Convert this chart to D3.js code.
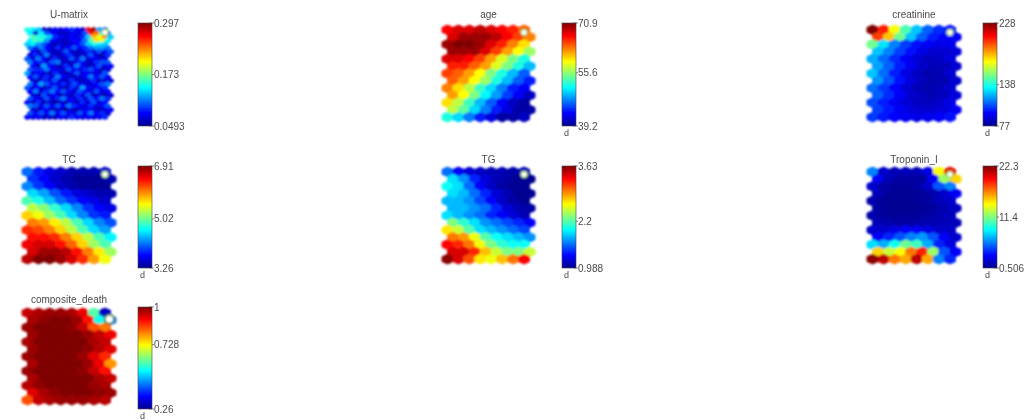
<!DOCTYPE html>
<html><head><meta charset="utf-8">
<script src="https://cdn.jsdelivr.net/npm/d3@7"></script>
<style>
body{margin:0;background:#fff}
svg{display:block}
text{font-family:"Liberation Sans",Arial,sans-serif;fill:#4a4a4a}
</style>
</head><body>
<svg id="c" width="1033" height="420"></svg>
<script>
// ---------------- DATA ----------------
const TITLES = ["U-matrix","age","creatinine","TC","TG","Troponin_I","composite_death"];

// U-matrix, 25 rows x 15 cols (top row first)
const U_MATRIX = [
[.15,.14,.13,.07,.06,.08,.07,.08,.09,.08,.07,.27,.29,.12,.10],
[.14,.07,.14,.10,.08,.07,.06,.07,.08,.07,.10,.26,.24,.15,.11],
[.16,.15,.15,.13,.09,.08,.07,.08,.07,.09,.13,.22,.20,.23,.13],
[.14,.16,.15,.12,.08,.07,.06,.07,.08,.08,.11,.16,.21,.20,.14],
[.13,.14,.12,.10,.07,.06,.07,.06,.07,.08,.10,.13,.15,.14,.13],
[.11,.09,.11,.08,.07,.09,.07,.08,.10,.08,.09,.11,.12,.12,.11],
[.08,.06,.10,.07,.06,.07,.10,.07,.06,.07,.09,.07,.10,.08,.10],
[.07,.09,.07,.11,.07,.06,.07,.09,.07,.06,.07,.10,.07,.06,.09],
[.10,.07,.11,.08,.06,.09,.06,.07,.10,.07,.11,.07,.08,.07,.07],
[.11,.08,.09,.07,.10,.11,.07,.06,.07,.09,.07,.06,.09,.10,.10],
[.08,.06,.12,.08,.07,.06,.09,.07,.11,.08,.06,.07,.10,.07,.08],
[.10,.09,.09,.11,.08,.07,.07,.10,.08,.07,.09,.10,.08,.06,.07],
[.12,.07,.08,.07,.06,.09,.07,.06,.07,.10,.07,.08,.07,.07,.10],
[.08,.10,.07,.09,.07,.11,.08,.07,.06,.07,.08,.11,.08,.10,.08],
[.07,.06,.09,.07,.10,.07,.06,.09,.07,.06,.07,.09,.06,.07,.07],
[.11,.08,.12,.10,.08,.07,.09,.07,.10,.08,.07,.07,.08,.10,.11],
[.10,.07,.08,.06,.07,.10,.07,.06,.09,.07,.12,.08,.07,.08,.09],
[.08,.11,.07,.09,.11,.08,.10,.08,.07,.10,.08,.07,.10,.07,.08],
[.07,.06,.10,.07,.08,.06,.07,.06,.09,.07,.10,.06,.07,.06,.07],
[.10,.08,.07,.10,.07,.09,.11,.08,.07,.09,.07,.10,.08,.11,.09],
[.08,.06,.09,.06,.07,.05,.07,.06,.08,.06,.09,.07,.10,.07,.08],
[.11,.10,.07,.10,.08,.10,.08,.11,.09,.08,.07,.09,.07,.08,.10],
[.07,.06,.08,.07,.06,.07,.05,.07,.06,.07,.08,.07,.06,.07,.08],
[.10,.08,.10,.08,.11,.08,.10,.08,.07,.10,.08,.11,.08,.09,.07],
[.08,.07,.08,.06,.07,.06,.08,.07,.09,.08,.07,.08,.07,.08,.09]
];

// component planes, 13 rows x 8 cols (top row first)
const AGE = [
[67,68,68,69,68,67,66,64],
[68,70,70,70,69,67,65,63],
[70,71,71,70,68,66,63,60],
[70,70,70,68,65,62,59,56],
[68,68,67,65,62,58,55,52],
[66,66,64,62,58,55,52,49],
[65,64,62,59,55,52,49,46],
[64,62,59,56,52,49,46,44],
[63,60,57,53,50,47,44,43],
[62,59,55,51,48,45,43,41],
[60,57,53,49,46,43,41,40],
[57,54,50,47,44,42,40,40],
[52,50,47,44,42,40,40,41]
];
const CREATININE = [
[228,205,170,145,125,110,102,98],
[200,180,150,125,110,100,96,95],
[150,130,115,105,98,94,92,93],
[125,115,105,98,92,88,88,90],
[122,112,102,95,89,85,86,90],
[120,110,100,93,87,84,84,88],
[125,112,100,92,86,82,83,88],
[118,108,98,90,85,82,83,88],
[112,104,96,89,84,82,84,88],
[110,102,95,88,85,83,85,90],
[107,100,94,89,86,85,87,92],
[105,99,94,90,88,88,90,94],
[104,99,96,93,92,93,95,98]
];
const TC = [
[4.1,3.8,3.6,3.5,3.4,3.4,3.4,3.5],
[3.9,3.7,3.5,3.4,3.3,3.3,3.3,3.4],
[4.2,3.9,3.7,3.5,3.4,3.3,3.3,3.3],
[4.5,4.3,4.0,3.8,3.6,3.5,3.4,3.4],
[4.9,4.7,4.4,4.1,3.9,3.7,3.6,3.5],
[5.3,5.1,4.8,4.5,4.2,3.9,3.7,3.6],
[5.7,5.5,5.2,4.9,4.5,4.2,3.9,3.8],
[6.0,5.9,5.6,5.3,4.9,4.5,4.2,4.0],
[6.3,6.2,6.0,5.7,5.3,4.9,4.5,4.3],
[6.4,6.4,6.3,6.0,5.7,5.3,4.9,4.6],
[6.5,6.6,6.6,6.4,6.1,5.7,5.2,4.9],
[6.6,6.8,6.8,6.7,6.4,6.0,5.6,5.2],
[6.7,6.9,6.9,6.8,6.6,6.3,5.9,5.5]
];
const TG = [
[1.6,1.3,1.2,1.15,1.1,1.1,1.05,1.1],
[1.9,1.7,1.4,1.2,1.1,1.05,1.0,1.0],
[2.0,1.9,1.6,1.3,1.15,1.05,1.0,1.0],
[1.9,1.8,1.6,1.4,1.2,1.1,1.0,1.0],
[1.8,1.8,1.7,1.5,1.3,1.15,1.05,1.0],
[1.8,1.8,1.7,1.6,1.4,1.2,1.1,1.05],
[1.9,1.8,1.7,1.6,1.4,1.3,1.2,1.1],
[2.3,2.1,1.9,1.7,1.6,1.5,1.4,1.3],
[2.7,2.5,2.2,1.9,1.8,1.7,1.6,1.5],
[3.0,2.9,2.6,2.2,2.0,1.9,1.8,1.7],
[3.3,3.2,3.0,2.6,2.3,2.1,2.0,2.0],
[3.4,3.4,3.2,2.8,2.5,2.3,2.3,2.5],
[3.6,3.4,3.1,2.7,2.6,2.8,3.0,3.3]
];
const TROPONIN_I = [
[6,2,1.5,1.5,1.5,2.5,14,20],
[3,1.5,1,1,1,3,12,15],
[2,1,0.8,0.8,1,2,5,6],
[1.5,0.8,0.6,0.6,0.8,1.2,2,3],
[1.2,0.7,0.6,0.6,0.7,1,1.5,2],
[1,0.7,0.6,0.6,0.7,0.9,1.3,1.8],
[1.2,0.8,0.7,0.7,0.8,1,1.3,1.6],
[1.5,1.2,1,1,1.2,1.3,1.5,1.6],
[2,2,2.5,3,3,2.5,2,1.8],
[3,4,5,6,6.5,5,3,2],
[8,7,9,11,10,7,4,2.5],
[15,13,14,17,19,12,5,3],
[22,21,17,16,21,16,6,4]
];
const COMPOSITE_DEATH = [
[0.95,0.97,0.98,0.98,0.97,0.92,0.6,0.3],
[0.97,0.99,1,1,0.98,0.9,0.55,0.45],
[0.98,1,1,1,0.99,0.95,0.85,0.82],
[0.98,1,1,1,1,0.98,0.95,0.92],
[0.97,1,1,1,1,1,0.97,0.95],
[0.98,1,1,1,1,0.99,0.96,0.93],
[0.98,1,1,1,1,0.98,0.93,0.88],
[0.97,1,1,1,1,0.98,0.92,0.8],
[0.98,1,1,1,1,0.99,0.95,0.9],
[0.97,1,1,1,1,1,0.97,0.95],
[0.96,0.99,1,1,1,1,0.98,0.97],
[0.93,0.97,0.99,1,1,1,0.99,0.98],
[0.85,0.95,0.97,0.98,0.98,0.98,0.97,0.96]
];

// colorbar tick labels (top, middle, bottom)
const TICKS_U = ["0.297","0.173","0.0493"];
const TICKS_AGE = ["70.9","55.6","39.2"];
const TICKS_CREATININE = ["228","138","77"];
const TICKS_TC = ["6.91","5.02","3.26"];
const TICKS_TG = ["3.63","2.2","0.988"];
const TICKS_TROPONIN_I = ["22.3","11.4","0.506"];
const TICKS_COMPOSITE_DEATH = ["1","0.728","0.26"];

const PLANES = [U_MATRIX, AGE, CREATININE, TC, TG, TROPONIN_I, COMPOSITE_DEATH];
const TICKS = [TICKS_U, TICKS_AGE, TICKS_CREATININE, TICKS_TC, TICKS_TG, TICKS_TROPONIN_I, TICKS_COMPOSITE_DEATH];
const HIT_UNIT = [0, 7]; // row, col of the marked unit

// ---------------- LAYOUT ----------------
const COLS = [{x0:22,x1:116,cb:138},{x0:442,x1:535,cb:562},{x0:867,x1:961,cb:983}];
const ROWS = [{y0:25,y1:122,cb0:23,cb1:126,ty:18},{y0:167,y1:264,cb0:166,cb1:268,ty:163},{y0:308,y1:405,cb0:307,cb1:409,ty:303}];
const CBW = 14;
const S3 = Math.sqrt(3);

const svg = d3.select("#c");
const defs = svg.append("defs");
defs.append("filter").attr("id","blurM").attr("x","-5%").attr("y","-5%").attr("width","110%").attr("height","110%")
  .append("feGaussianBlur").attr("stdDeviation",0.8);
defs.append("filter").attr("id","blurT").append("feGaussianBlur").attr("stdDeviation",0.35);

const jetStops = [[0,"#00008f"],[0.125,"#0000ff"],[0.375,"#00ffff"],[0.625,"#ffff00"],[0.875,"#ff0000"],[1,"#800000"]];
const jet = d3.scaleLinear().domain(jetStops.map(d=>d[0])).range(jetStops.map(d=>d[1])).interpolate(d3.interpolateRgb).clamp(true);

const grad = defs.append("linearGradient").attr("id","jet").attr("x1",0).attr("y1",1).attr("x2",0).attr("y2",0);
jetStops.forEach(s=>grad.append("stop").attr("offset",s[0]).attr("stop-color",s[1]));

const hexUnit = [[0,-1/S3],[0.5,-0.5/S3],[0.5,0.5/S3],[0,1/S3],[-0.5,0.5/S3],[-0.5,-0.5/S3]];

PLANES.forEach((plane, pi) => {
  const C = COLS[pi % 3], R = ROWS[Math.floor(pi / 3)];
  const xs = d3.scaleLinear().domain([-0.5, 8]).range([C.x0, C.x1]);
  const ys = d3.scaleLinear().domain([-1/S3, 12*S3/2 + 1/S3]).range([R.y0, R.y1]);
  const ticks = TICKS[pi];
  const vmax = +ticks[0], vmin = +ticks[2];
  const norm = d3.scaleLinear().domain([vmin, vmax]).range([0, 1]);
  const g = svg.append("g").attr("filter","url(#blurM)");

  const cells = [];
  if (pi === 0) {
    plane.forEach((row, i) => row.forEach((v, j) => {
      const m = i % 4;
      const shift = m === 0 ? 0 : (m === 2 ? 0.5 : 0.25);
      cells.push({x: j/2 + shift, y: i*S3/4, s: 0.5, v});
    }));
  } else {
    plane.forEach((row, r) => row.forEach((v, c) => {
      cells.push({x: c + (r % 2 ? 0.5 : 0), y: r*S3/2, s: 1, v});
    }));
  }
  g.selectAll("polygon").data(cells).join("polygon")
    .attr("points", d => hexUnit.map(p => [xs(d.x + p[0]*d.s), ys(d.y + p[1]*d.s)].join(",")).join(" "))
    .attr("fill", d => jet(norm(d.v)))
    .attr("stroke", d => jet(norm(d.v)))
    .attr("stroke-width", 1)
    .attr("stroke-linejoin","round");

  // hit marker
  const hx = HIT_UNIT[1] + (HIT_UNIT[0] % 2 ? 0.5 : 0) + (pi === 6 ? 0.4 : 0);
  const hy = HIT_UNIT[0]*S3/2 + (pi === 6 ? 0.75 : 0.3);
  g.append("circle").attr("cx", xs(hx)).attr("cy", ys(hy))
    .attr("r", pi === 6 ? 4.5 : 3.2).attr("fill", "#fff")
    .attr("stroke", pi === 6 ? "#2f6f10" : "#7fbf2a").attr("stroke-width", pi === 6 ? 1.8 : 1.2);

  const tg = svg.append("g").attr("filter","url(#blurT)");
  // title
  tg.append("text").attr("x", (C.x0 + C.x1)/2).attr("y", R.ty)
    .attr("text-anchor","middle").style("font-size","10px").text(TITLES[pi]);

  // colorbar
  const cy = d3.scaleLinear().domain([vmin, vmax]).range([R.cb1, R.cb0]);
  svg.append("rect").attr("x", C.cb).attr("y", R.cb0).attr("width", CBW).attr("height", R.cb1 - R.cb0)
    .attr("fill","url(#jet)").attr("stroke","#444").attr("stroke-width",0.6).attr("filter","url(#blurT)");
  ticks.forEach(t => {
    const y = cy(+t);
    tg.append("line").attr("x1", C.cb + CBW - 3).attr("x2", C.cb + CBW + 2).attr("y1", y).attr("y2", y)
      .attr("stroke","#555").attr("stroke-width",0.7);
    tg.append("text").attr("x", C.cb + CBW + 2).attr("y", y).attr("dy","0.35em")
      .style("font-size","10px").text(t);
  });
  if (pi !== 0) {
    tg.append("text").attr("x", C.cb + 2).attr("y", R.cb1 + 10).style("font-size","9px").text("d");
  }
});
</script>
</body></html>
